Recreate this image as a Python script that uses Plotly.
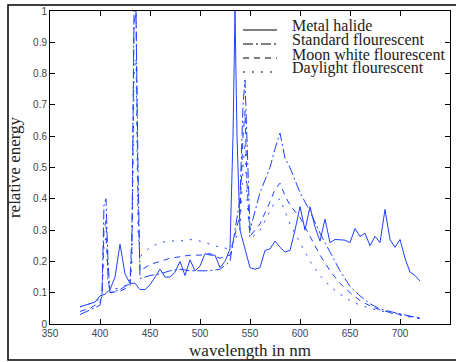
import plotly.graph_objects as go

# ---- data ----
metal_wl = [380, 385, 390, 395, 400, 405, 410, 415, 420, 425, 430, 435, 440, 445, 450, 455, 460, 465,
            470, 475, 480, 485, 490, 495, 500, 505, 510, 515, 520, 525, 530, 533, 535, 537, 540, 545,
            550, 555, 560, 565, 570, 575, 580, 585, 590, 595, 600, 605, 610, 615, 620, 625, 630, 635,
            640, 645, 650, 655, 660, 665, 670, 675, 680, 685, 690, 695, 700, 705, 710, 715, 720]
metal_halide = [0.055, 0.06, 0.065, 0.07, 0.09, 0.095, 0.11, 0.15, 0.255, 0.16, 0.13, 0.13, 0.11, 0.11,
                0.125, 0.15, 0.175, 0.15, 0.15, 0.165, 0.2, 0.155, 0.205, 0.17, 0.185, 0.225, 0.22, 0.22,
                0.18, 0.2, 0.24, 0.6, 1.0, 0.6, 0.3, 0.24, 0.18, 0.175, 0.18, 0.235, 0.24, 0.265, 0.245,
                0.23, 0.235, 0.3, 0.375, 0.3, 0.375, 0.31, 0.265, 0.335, 0.26, 0.27, 0.27, 0.268, 0.26,
                0.305, 0.28, 0.29, 0.25, 0.28, 0.26, 0.366, 0.27, 0.245, 0.27, 0.21, 0.166, 0.155, 0.137]

fl_wl = [380, 390, 400, 402, 404, 406, 408, 410, 420, 430, 432, 434, 436, 438, 440,
         450, 460, 470, 480, 490, 500, 510, 520, 530, 540, 543, 545, 547, 550,
         560, 570, 575, 580, 585, 590, 600, 610, 620, 630, 640, 650, 660, 670, 680, 690, 700, 710, 720]
standard = [0.030, 0.045, 0.060, 0.10, 0.38, 0.40, 0.20, 0.10, 0.11, 0.13, 0.30, 1.0, 1.0, 0.50, 0.145,
            0.155, 0.16, 0.17, 0.175, 0.17, 0.17, 0.17, 0.175, 0.20, 0.40, 0.70, 0.78, 0.60, 0.30,
            0.42, 0.50, 0.56, 0.61, 0.53, 0.50, 0.42, 0.36, 0.29, 0.23, 0.17, 0.12, 0.09, 0.065, 0.048,
            0.040, 0.032, 0.025, 0.020]
moon_white = [0.040, 0.050, 0.070, 0.09, 0.30, 0.33, 0.15, 0.10, 0.105, 0.12, 0.25, 0.95, 1.0, 0.40, 0.17,
              0.19, 0.20, 0.21, 0.215, 0.22, 0.22, 0.225, 0.21, 0.22, 0.35, 0.60, 0.68, 0.45, 0.28,
              0.32, 0.39, 0.43, 0.45, 0.41, 0.38, 0.34, 0.28, 0.22, 0.17, 0.13, 0.10, 0.075, 0.058, 0.045,
              0.037, 0.030, 0.024, 0.018]
daylight = [0.055, 0.065, 0.080, 0.09, 0.25, 0.28, 0.13, 0.11, 0.115, 0.13, 0.20, 0.80, 0.85, 0.30, 0.215,
            0.245, 0.26, 0.265, 0.265, 0.27, 0.265, 0.255, 0.245, 0.24, 0.30, 0.50, 0.58, 0.40, 0.27,
            0.30, 0.36, 0.39, 0.40, 0.36, 0.32, 0.26, 0.20, 0.155, 0.12, 0.095, 0.075, 0.06, 0.05, 0.042,
            0.035, 0.028, 0.022, 0.017]

names = ["Metal halide", "Standard flourescent", "Moon white flourescent", "Daylight flourescent"]
dashes = ["solid", "10px,3px,2px,3px", "6px,5px", "2px,7px"]
BLUE = "rgb(30,65,255)"

W, H = 456, 362
ML, MR, MT, MB = 50, 6, 11, 38
PW, PH = W - ML - MR, H - MT - MB

def px(x):
    return (x - ML) / PW

def py(y):
    return (H - MB - y) / PH

fig = go.Figure()
series = [(metal_wl, metal_halide), (fl_wl, standard), (fl_wl, moon_white), (fl_wl, daylight)]
for (xs, ys), nm, d in zip(series, names, dashes):
    fig.add_trace(go.Scatter(x=xs, y=ys, mode="lines", name=nm, showlegend=False,
                             line=dict(color=BLUE, width=1, dash=d)))

shapes = []
annotations = []
# manual legend
row_text_y = [26, 40, 54, 68]
for i, (nm, d) in enumerate(zip(names, dashes)):
    ly = row_text_y[i] + 4
    shapes.append(dict(type="line", xref="paper", yref="paper",
                       x0=px(243), x1=px(277), y0=py(ly), y1=py(ly),
                       line=dict(color="black", width=1, dash=d)))
    annotations.append(dict(text=nm, xref="paper", yref="paper", x=px(291), y=py(row_text_y[i]),
                            xanchor="left", yanchor="middle", showarrow=False, borderpad=0,
                            font=dict(family="Liberation Serif", size=16, color="#222")))
# outer frame
shapes.append(dict(type="rect", xref="paper", yref="paper", x0=px(8), x1=px(470),
                   y0=py(360), y1=py(5), line=dict(color="black", width=1.5)))

axis_common = dict(showline=True, linecolor="black", linewidth=1, mirror="ticks", ticks="inside",
                   ticklen=5, tickcolor="black", showgrid=False, zeroline=False, automargin=False,
                   tickfont=dict(family="Liberation Sans", size=10, color="#444"))

fig.update_layout(
    width=W, height=H, margin=dict(l=ML, r=MR, t=MT, b=MB),
    paper_bgcolor="white", plot_bgcolor="white",
    shapes=shapes, annotations=annotations, showlegend=False,
    xaxis=dict(range=[350, 750], dtick=50, tick0=350,
               title=dict(text="wavelength in nm", standoff=6,
                          font=dict(family="Liberation Serif", size=17, color="#222")),
               **axis_common),
    yaxis=dict(range=[0, 1], dtick=0.1,
               title=dict(text="relative energy", standoff=8,
                          font=dict(family="Liberation Serif", size=17, color="#222")),
               **axis_common),
)
fig.write_html("out.html", config={"displayModeBar": False},
               post_script="document.body.style.margin='0';")
